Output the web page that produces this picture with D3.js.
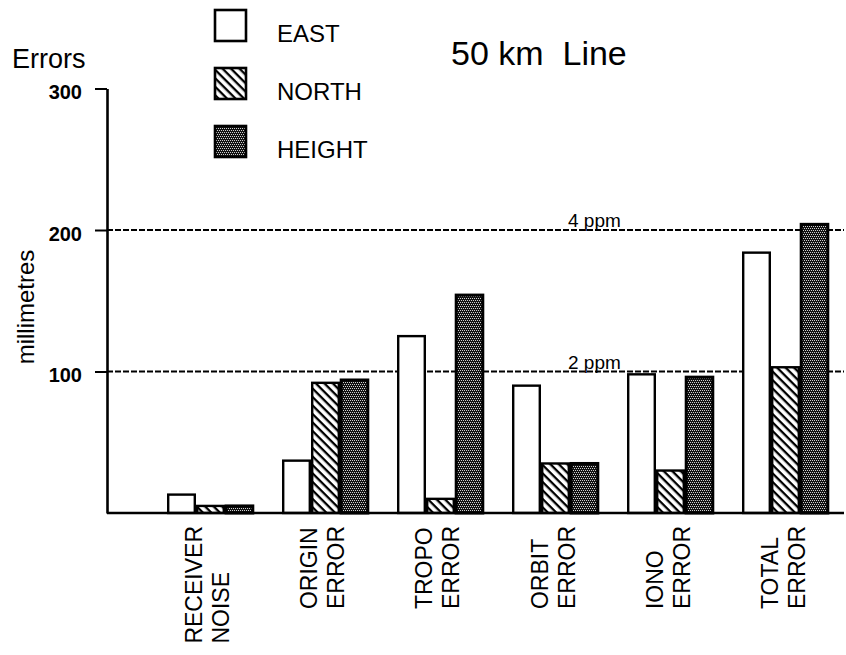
<!DOCTYPE html>
<html>
<head>
<meta charset="utf-8">
<script src="https://cdn.jsdelivr.net/npm/d3@7/dist/d3.min.js"></script>
<style>
  html, body { margin: 0; padding: 0; background: #fff; }
  svg { display: block; }
  text { font-family: "Liberation Sans", Arial, Helvetica, sans-serif; fill: #000; }
</style>
</head>
<body>
<svg id="chart" width="846" height="655"></svg>
<script>
// ---- data ----
const categories = ["RECEIVER NOISE", "ORIGIN ERROR", "TROPO ERROR", "ORBIT ERROR", "IONO ERROR", "TOTAL ERROR"];
const categoryLines = [["RECEIVER", "NOISE"], ["ORIGIN", "ERROR"], ["TROPO", "ERROR"], ["ORBIT", "ERROR"], ["IONO", "ERROR"], ["TOTAL", "ERROR"]];
const seriesNames = ["EAST", "NORTH", "HEIGHT"];
const eastValues   = [13, 37, 125, 90, 98, 184];
const northValues  = [5, 92, 10, 35, 30, 103];
const heightValues = [5, 94, 154, 35, 96, 204];
const yTickValues = [100, 200, 300];
const refValues = [200, 100];
const refLabels = ["4 ppm", "2 ppm"];
const titleText = "50 km  Line";
const yTopLabel = "Errors";
const yAxisLabel = "millimetres";

const seriesValues = [eastValues, northValues, heightValues];

// ---- layout ----
const svg = d3.select("#chart");
const defs = svg.append("defs");

// North: diagonal hatch
const hatch = defs.append("pattern").attr("id", "hatch")
  .attr("patternUnits", "userSpaceOnUse").attr("width", 6).attr("height", 6)
  .attr("patternTransform", "rotate(45)");
hatch.append("rect").attr("width", 6).attr("height", 6).attr("fill", "#fff");
hatch.append("rect").attr("x", 0).attr("y", 0).attr("width", 6).attr("height", 2.3).attr("fill", "#000");

// Height: dense dark cross-hatch
const dots = defs.append("pattern").attr("id", "dots")
  .attr("patternUnits", "userSpaceOnUse").attr("width", 4).attr("height", 4);
dots.append("rect").attr("width", 4).attr("height", 4).attr("fill", "#111");
[[0,0],[2,0],[1,2],[3,2]].forEach(([x,y]) =>
  dots.append("rect").attr("x", x).attr("y", y).attr("width", 1).attr("height", 1).attr("fill", "#cfcfcf"));

const fills = ["#fff", "url(#hatch)", "url(#dots)"];

const y = d3.scaleLinear().domain([0, 300]).range([513, 88.5]);
const x = d3.scaleBand().domain(categories).range([167, 829]).paddingInner(0.2435).paddingOuter(0);
const xs = d3.scaleBand().domain(seriesNames).range([0, x.bandwidth()]).padding(0);

const axisX = 107;
const rightEdge = 844;

// reference dashed lines
svg.append("g").selectAll("line").data(refValues).join("line")
  .attr("x1", axisX).attr("x2", rightEdge)
  .attr("y1", d => y(d)).attr("y2", d => y(d))
  .attr("stroke", "#000").attr("stroke-width", 1.8).attr("stroke-dasharray", "6,2");

svg.append("g").selectAll("text").data(refValues).join("text")
  .attr("x", 568).attr("y", d => y(d) - 3)
  .attr("font-size", 19).text((d, i) => refLabels[i]);

// bars
const groups = svg.append("g").selectAll("g").data(categories).join("g")
  .attr("transform", d => `translate(${x(d)},0)`);

groups.selectAll("rect").data((c, ci) => seriesNames.map((s, si) => ({ s, si, v: seriesValues[si][ci] })))
  .join("rect")
  .attr("x", d => xs(d.s) + 1.2)
  .attr("y", d => y(d.v))
  .attr("width", xs.bandwidth() - 2.4)
  .attr("height", d => y(0) - y(d.v))
  .attr("fill", d => fills[d.si])
  .attr("stroke", "#000")
  .attr("stroke-width", d => d.si === 2 ? 3 : 2.4);

// baseline
svg.append("line").attr("x1", axisX).attr("x2", rightEdge)
  .attr("y1", y(0)).attr("y2", y(0)).attr("stroke", "#000").attr("stroke-width", 2.4);

// y axis
const yAxis = d3.axisLeft(y).tickValues(yTickValues).tickSize(12).tickSizeOuter(0).tickPadding(13)
  .tickFormat(d3.format("d"));
const yg = svg.append("g").attr("transform", `translate(${axisX},0)`).call(yAxis);
yg.select(".domain").attr("stroke", "#000").attr("stroke-width", 2.6);
yg.selectAll(".tick line").attr("stroke", "#000").attr("stroke-width", 2);
yg.selectAll(".tick text").attr("font-size", 20).attr("font-weight", "bold")
  .attr("font-family", "'Liberation Sans', Arial, sans-serif").attr("fill", "#000").attr("dy", "0.5em");

// category labels (rotated, two lines, start-aligned at bottom, top of longest line aligned)
const labelTop = 526;
const lineGap = 27;
groups.each(function (c, ci) {
  const g = d3.select(this);
  const cx = x.bandwidth() / 2;
  const lines = categoryLines[ci];
  const texts = lines.map((t, li) => g.append("text").attr("font-size", 23).text(t));
  const maxLen = d3.max(texts, t => t.node().getComputedTextLength());
  const bottom = labelTop + maxLen;
  texts.forEach((t, li) => {
    const bx = cx - 8 + li * lineGap;
    t.attr("transform", `translate(${bx},${bottom}) rotate(-90)`);
  });
});

// y axis labels
svg.append("text").attr("x", 12).attr("y", 68).attr("font-size", 27).text(yTopLabel);
svg.append("text").attr("transform", `translate(34,307) rotate(-90)`)
  .attr("text-anchor", "middle").attr("font-size", 24).text(yAxisLabel);

// title
svg.append("text").attr("x", 451).attr("y", 65).attr("font-size", 34)
  .style("white-space", "pre").attr("xml:space", "preserve").text(titleText);

// legend
const legendY = d3.scalePoint().domain(seriesNames).range([10, 126]);
const leg = svg.append("g").selectAll("g").data(seriesNames).join("g")
  .attr("transform", d => `translate(215,${legendY(d)})`);
leg.append("rect").attr("x", 0).attr("y", 0).attr("width", 31).attr("height", 31)
  .attr("fill", (d, i) => fills[i]).attr("stroke", "#000").attr("stroke-width", 2.6);
leg.append("text").attr("x", 62).attr("y", 32).attr("font-size", 24).text(d => d);
</script>
</body>
</html>
